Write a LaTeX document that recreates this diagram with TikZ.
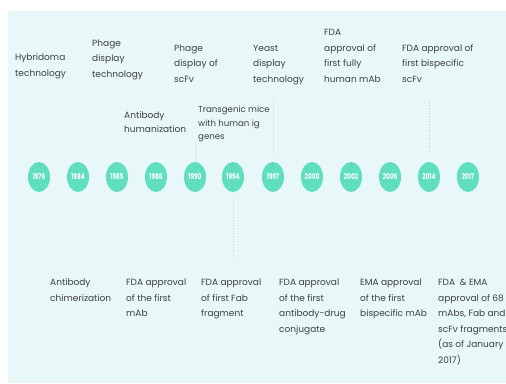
\documentclass[tikz,border=0pt]{standalone}
\usepackage{fontspec}
\setmainfont{Poppins}
\usetikzlibrary{shapes.geometric}
\definecolor{bg}{RGB}{232,248,248}
\definecolor{mint}{RGB}{96,222,192}
\definecolor{txt}{RGB}{62,62,62}
\definecolor{dotc}{RGB}{200,212,212}
\newcommand{\yrtxt}[1]{\scalebox{0.72}[1]{#1}}
\begin{document}
\begin{tikzpicture}[x=1pt,y=-1pt,
  lbl/.style={anchor=base west, align=left, inner sep=0pt, font=\fontsize{9}{15.6}\selectfont, text=txt},
  yr/.style={ellipse, fill=mint, minimum width=22pt, minimum height=30pt, inner sep=0pt, text=white, font=\fontsize{8}{9}\selectfont\bfseries},
  guide/.style={draw=dotc, dotted, line width=0.7pt}]
\useasboundingbox (0,0) rectangle (506,383);
\fill[white] (0,0) rectangle (506,383);
\fill[bg] (8,11) rectangle (506,383);
% year circles
\node[yr] (y76) at (39,177) {\yrtxt{1976}};
\node[yr] (y84) at (78,177) {\yrtxt{1984}};
\node[yr] (y85) at (117,177) {\yrtxt{1985}};
\node[yr] (y86) at (156,177) {\yrtxt{1986}};
\node[yr] (y90) at (195,177) {\yrtxt{1990}};
\node[yr] (y94) at (233,177) {\yrtxt{1994}};
\node[yr] (y97) at (273,177) {\yrtxt{1997}};
\node[yr] (y00) at (312,177) {\yrtxt{2000}};
\node[yr] (y02) at (351,177) {\yrtxt{2002}};
\node[yr] (y06) at (390,177) {\yrtxt{2006}};
\node[yr] (y14) at (429,177) {\yrtxt{2014}};
\node[yr] (y17) at (468,177) {\yrtxt{2017}};
% top labels (anchor = baseline of last line)
\node[lbl] (t1) at (15,76.5) {Hybridoma\\technology};
\node[lbl] (t2) at (92,77.5) {Phage\\display\\technology};
\node[lbl] (t3) at (174,82.5) {Phage\\display of\\scFv};
\node[lbl] (t4) at (253,82.5) {Yeast\\display\\technology};
\node[lbl] (t5) at (324,82.5) {FDA\\approval of\\first fully\\human mAb};
\node[lbl] (t6) at (402,82.5) {FDA approval of\\first bispecific\\scFv};
\node[lbl, font=\fontsize{9}{14.2}\selectfont] (t7) at (124,132.5) {Antibody\\humanization};
\node[lbl, font=\fontsize{8.6}{13.5}\selectfont] (t8) at (198,139.5) {Transgenic mice\\with human ig\\genes};
% bottom labels
\node[lbl] (b1) at (50,301.1) {Antibody\\chimerization};
\node[lbl] (b2) at (126,316.7) {FDA approval\\of the first\\mAb};
\node[lbl] (b3) at (201,316.7) {FDA approval\\of first Fab\\fragment};
\node[lbl] (b4) at (279,332.3) {FDA approval\\of the first\\antibody-drug\\conjugate};
\node[lbl] (b5) at (360,316.7) {EMA approval\\of the first\\bispecific mAb};
\node[lbl] (b6) at (438,363.5) {FDA\ \ \&\ EMA\\approval of 68\\mAbs, Fab and\\scFv fragments\\(as of January\\2017)};
% dotted guides
\coordinate (g90) at (195,142);
\coordinate (g97) at (273,98);
\coordinate (g14) at (429,98);
\coordinate (g94) at (233,258);
\draw[guide] (y90.north) -- (g90);
\draw[guide] (y97.north) ++(0,-8) -- (g97);
\draw[guide] (y14.north) ++(0,-10) -- (g14);
\draw[guide] (y94.south) ++(0,6) -- (g94);
\end{tikzpicture}
\end{document}
